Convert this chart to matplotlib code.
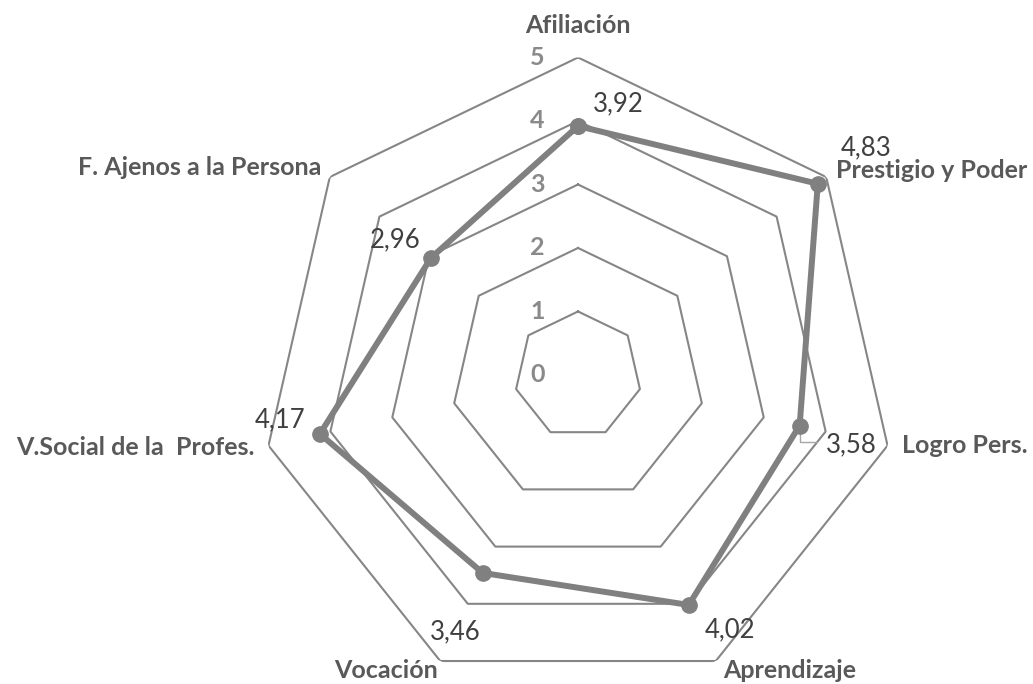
import numpy as np
import matplotlib
matplotlib.use("Agg")
import matplotlib.pyplot as plt

plt.rcParams['font.family'] = ['Lato', 'DejaVu Sans']

categories = ["Afiliación", "Prestigio y Poder", "Logro Pers.", "Aprendizaje",
              "Vocación", "V.Social de la  Profes.", "F. Ajenos a la Persona"]
values = [3.92, 4.83, 3.58, 4.02, 3.46, 4.17, 2.96]
value_labels = ["3,92", "4,83", "3,58", "4,02", "3,46", "4,17", "2,96"]
levels = [1, 2, 3, 4, 5]
tick_labels = ["0", "1", "2", "3", "4", "5"]

# label placement (offset points, alignment) - tuned to the reference
cat_pos = [((0, 23), 'center'), ((7, 5), 'left'), ((10.4, 0), 'left'),
           ((5, -6.5), 'left'), ((-2, -6.5), 'right'), ((-9.7, -1), 'right'),
           ((-5.8, 6.5), 'right')]
val_pos = [((10.8, 15.8), 'left'), ((16.6, 26), 'left'), ((18.7, -13.7), 'left'),
           ((11.5, -18), 'left'), ((-1.4, -42.5), 'right'), ((-10.8, 10), 'right'),
           ((-7.9, 13), 'right')]

n = len(categories)
angles = np.arange(n) * 2 * np.pi / n
closed = np.append(angles, angles[0])

fig = plt.figure(figsize=(10.33, 6.84), dpi=100)
fig.patch.set_facecolor('white')
ax = fig.add_axes([0.2522, -0.0124, 0.6147, 0.9284], projection='polar')
ax.set_theta_offset(np.pi / 2)
ax.set_theta_direction(-1)
ax.set_ylim(0, 5)
ax.grid(False)
ax.spines['polar'].set_visible(False)
ax.set_xticks([])
ax.set_yticks([])
ax.patch.set_alpha(0)

grid_col = '#868686'
for lv in levels:
    ax.plot(closed, [lv] * (n + 1), color=grid_col, lw=1.5, zorder=1)

# radial axis labels
for i, t in enumerate(tick_labels):
    ax.annotate(t, xy=(0, i), xytext=(-24, 0), textcoords='offset points',
                ha='right', va='center', fontsize=18, fontweight='bold',
                color='#8a8a8a', annotation_clip=False)

ax.plot(closed, np.append(values, values[0]), color='#808080', lw=4.3,
        marker='o', markersize=11, zorder=4, solid_joinstyle='round')

for i, cat in enumerate(categories):
    off, ha = cat_pos[i]
    ax.annotate(cat, xy=(angles[i], 5), xytext=off, textcoords='offset points',
                ha=ha, va='center', fontsize=18, fontweight='bold',
                color='#595959', annotation_clip=False)

for i, lab in enumerate(value_labels):
    off, ha = val_pos[i]
    kw = {}
    if lab == "3,58":
        kw['arrowprops'] = dict(arrowstyle='-', color='#a6a6a6', lw=1,
                                connectionstyle='angle,angleA=0,angleB=90,rad=0',
                                shrinkA=4, shrinkB=0, relpos=(0, 0.6))
    ax.annotate(lab, xy=(angles[i], values[i]), xytext=off, textcoords='offset points',
                ha=ha, va='center', fontsize=18.5, color='#404040',
                annotation_clip=False, zorder=3, **kw)

fig.savefig('out.png', dpi=100)
